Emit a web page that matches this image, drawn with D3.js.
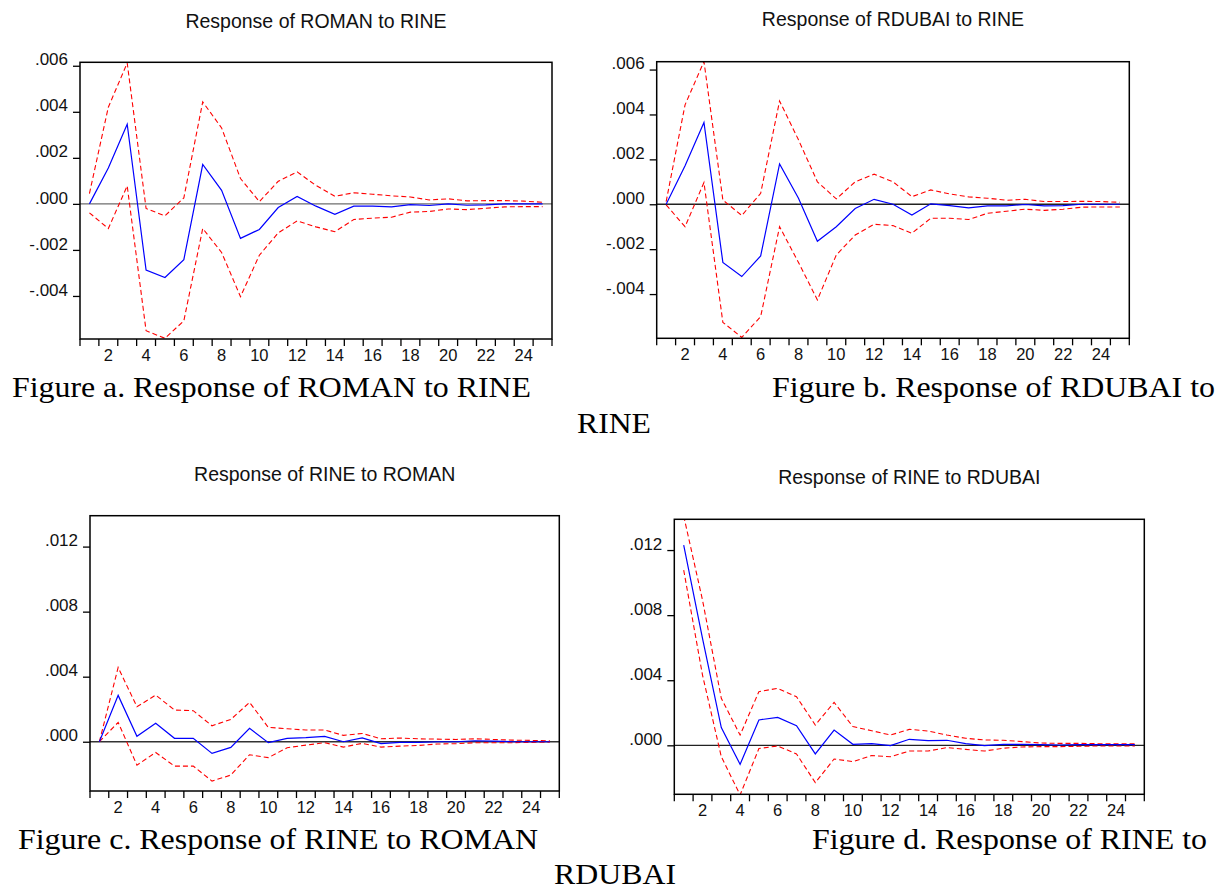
<!DOCTYPE html>
<html>
<head>
<meta charset="utf-8">
<script src="https://cdn.jsdelivr.net/npm/d3@7"></script>
<style>
  body { margin: 0; background: #fff; }
  svg { display: block; }
  .ptitle { font-family: "Liberation Sans", Arial, sans-serif; font-size: 19.5px; fill: #111; }
  .tick text { font-family: "Liberation Sans", Arial, sans-serif; font-size: 17px; fill: #111; }
  .caption { font-family: "Liberation Serif", "Times New Roman", serif; font-size: 30px; fill: #000; }
</style>
</head>
<body>
<div id="chart"></div>
<script>
// periods 1..25
let periods = [1, 2, 3, 4, 5, 6, 7, 8, 9, 10, 11, 12, 13, 14, 15, 16, 17, 18, 19, 20, 21, 22, 23, 24, 25]
let xTickLabels = ["2", "4", "6", "8", "10", "12", "14", "16", "18", "20", "22", "24"]

// Response of ROMAN to RINE
let omanResp  = [0, 0.00156, 0.00346, -0.00288, -0.0032, -0.00242, 0.00171, 0.00059, -0.0015, -0.00111, -0.00016, 0.00032, -0.0001, -0.00045, -0.0001, -0.0001, -0.00013, -0.00003, -0.00007, 0, -0.00006, -0.00004, 0, 0, 0]
let omanUpper = [0.00045, 0.0042, 0.00612, -0.0002, -0.00052, 0.00026, 0.00443, 0.0033, 0.0011, 0.0001, 0.00098, 0.00139, 0.0008, 0.00033, 0.00048, 0.00042, 0.00035, 0.0003, 0.00017, 0.00022, 0.00013, 0.00014, 0.00014, 0.00012, 0.00007]
let omanLower = [-0.00039, -0.00107, 0.00078, -0.00551, -0.00584, -0.00508, -0.00107, -0.00211, -0.00403, -0.00223, -0.00126, -0.00074, -0.001, -0.00121, -0.00068, -0.00062, -0.00058, -0.00036, -0.00033, -0.00022, -0.00025, -0.00019, -0.00013, -0.00012, -0.00012]

// Response of RDUBAI to RINE
let dubaiResp  = [0, 0.00172, 0.00364, -0.00259, -0.00322, -0.0023, 0.0018, 0.00027, -0.00165, -0.001, -0.00019, 0.00022, 0, -0.00048, 0.00002, -0.00006, -0.00016, -0.00007, -0.00007, -0.00001, -0.00007, -0.00006, 0, 0, 0]
let dubaiUpper = [0.00012, 0.00443, 0.00636, 0.00019, -0.0005, 0.00049, 0.0046, 0.00287, 0.001, 0.00024, 0.001, 0.00134, 0.001, 0.00034, 0.00064, 0.00046, 0.00033, 0.00027, 0.00018, 0.00022, 0.00012, 0.00012, 0.00013, 0.00012, 0.00009]
let dubaiLower = [-0.00003, -0.001, 0.00097, -0.00526, -0.00593, -0.005, -0.001, -0.00259, -0.00426, -0.00226, -0.00137, -0.00089, -0.00095, -0.00129, -0.00062, -0.00062, -0.00068, -0.0004, -0.00031, -0.00022, -0.00027, -0.00022, -0.00013, -0.00012, -0.00012]

// Response of RINE to ROMAN
let ineOmanResp  = [0, 0.00285, 0.00033, 0.00113, 0.00021, 0.00021, -0.00072, -0.00035, 0.00082, -0.00006, 0.00021, 0.00025, 0.00033, 0, 0.00023, -0.00012, -0.00004, -0.00004, 0, 0, 0.00006, 0.00004, 0, 0, 0]
let ineOmanUpper = [0, 0.00457, 0.00215, 0.00287, 0.00195, 0.00191, 0.00098, 0.00137, 0.00242, 0.00088, 0.0008, 0.00072, 0.00072, 0.00039, 0.00051, 0.00018, 0.00023, 0.00018, 0.00016, 0.00014, 0.00018, 0.00014, 0.0001, 0.00008, 0.00006]
let ineOmanLower = [0, 0.00119, -0.00144, -0.00066, -0.0015, -0.0015, -0.00242, -0.00205, -0.0008, -0.00098, -0.00037, -0.00021, -0.00006, -0.00033, -0.0001, -0.00033, -0.00027, -0.00023, -0.00014, -0.00012, -0.00006, -0.00006, -0.00006, -0.00004, -0.00002]

// Response of RINE to RDUBAI
let ineDubaiResp  = [0.01231, 0.00657, 0.00109, -0.00117, 0.00156, 0.00172, 0.00121, -0.00053, 0.00094, 0.00006, 0.0001, -0.00002, 0.00037, 0.00029, 0.00031, 0.0001, -0.00002, 0.00006, 0.00006, 0.00004, 0.00002, 0.00004, 0.00004, 0.00004, 0.00004]
let ineDubaiUpper = [0.0141, 0.00893, 0.00289, 0.00063, 0.0033, 0.0035, 0.00299, 0.00125, 0.00264, 0.00115, 0.0009, 0.00063, 0.00098, 0.00088, 0.00063, 0.00043, 0.00033, 0.00031, 0.00023, 0.00014, 0.00012, 0.00012, 0.0001, 0.0001, 0.0001]
let ineDubaiLower = [0.01077, 0.00432, -0.0007, -0.00305, -0.0002, -0.00004, -0.00053, -0.00229, -0.00084, -0.001, -0.00063, -0.0007, -0.00035, -0.00035, -0.00014, -0.00025, -0.00035, -0.00018, -0.0001, -0.00008, -0.00008, -0.00006, -0.00004, -0.00004, -0.00004]

// y axis ticks
let smallTicks = [-0.004, -0.002, 0, 0.002, 0.004, 0.006]
let smallTickLabels = ["-.004", "-.002", ".000", ".002", ".004", ".006"]
let bigTicks = [0, 0.004, 0.008, 0.012]
let bigTickLabels = [".000", ".004", ".008", ".012"]

let titles = ["Response of ROMAN to RINE", "Response of RDUBAI to RINE", "Response of RINE to ROMAN", "Response of RINE to RDUBAI"]

const W = 1227, H = 893

let svg = d3.select("#chart").append("svg")
  .attr("width", W)
  .attr("height", H)

svg.append("rect").attr("width", W).attr("height", H).attr("fill", "#fff")

let drawPanel = function(p, i) {
  let x = d3.scaleBand().domain(periods).range([p.x0, p.x1])
  let y = d3.scaleLinear().domain(p.yDomain).range([p.y1, p.y0])
  let cx = d => x(d) + x.bandwidth() / 2

  let g = svg.append("g")

  g.append("text")
    .attr("class", "ptitle")
    .attr("x", (p.x0 + p.x1) / 2)
    .attr("y", p.titleY)
    .attr("text-anchor", "middle")
    .text(titles[i])

  // clip
  g.append("clipPath").attr("id", "clip" + i)
    .append("rect")
      .attr("x", p.x0).attr("y", p.y0)
      .attr("width", p.x1 - p.x0).attr("height", p.y1 - p.y0)

  let plot = g.append("g").attr("clip-path", "url(#clip" + i + ")")

  plot.append("line")
    .attr("x1", p.x0).attr("x2", p.x1)
    .attr("y1", y(0)).attr("y2", y(0))
    .attr("stroke", p.zeroColor)
    .attr("stroke-width", 1.3)

  let line = d3.line()
    .x((d, j) => cx(periods[j]))
    .y(d => y(d))

  plot.append("path").datum(p.upper)
    .attr("d", line).attr("fill", "none")
    .attr("stroke", "#ff0000").attr("stroke-width", 1.1)
    .attr("stroke-dasharray", "5,3")
  plot.append("path").datum(p.lower)
    .attr("d", line).attr("fill", "none")
    .attr("stroke", "#ff0000").attr("stroke-width", 1.1)
    .attr("stroke-dasharray", "5,3")
  plot.append("path").datum(p.resp)
    .attr("d", line).attr("fill", "none")
    .attr("stroke", "#0000ff").attr("stroke-width", 1.2)

  // frame
  g.append("rect")
    .attr("x", p.x0).attr("y", p.y0)
    .attr("width", p.x1 - p.x0).attr("height", p.y1 - p.y0)
    .attr("fill", "none").attr("stroke", "#000").attr("stroke-width", 1.5)

  // y axis
  let yAxis = d3.axisLeft(y)
    .tickValues(p.ticks)
    .tickFormat((d, j) => p.tickLabels[j])
    .tickSize(7)
    .tickPadding(5)
  let ya = g.append("g").attr("transform", "translate(" + p.x0 + ",0)").call(yAxis)
  ya.select(".domain").remove()
  ya.selectAll(".tick line").attr("stroke", "#000").attr("stroke-width", 1.3)
  ya.selectAll(".tick text").attr("dy", "-0.05em")

  // x axis: ticks at band boundaries, labels on even periods
  let xa = g.append("g")
  let edges = periods.map(d => x(d)).concat([p.x1])
  xa.selectAll("line.xt").data(edges).enter().append("line")
    .attr("class", "xt")
    .attr("x1", d => d).attr("x2", d => d)
    .attr("y1", p.y1).attr("y2", p.y1 + 7)
    .attr("stroke", "#000").attr("stroke-width", 1.3)
  xa.selectAll("text").data(xTickLabels).enter().append("text")
    .attr("x", d => cx(+d))
    .attr("y", p.y1 + 22)
    .attr("text-anchor", "middle")
    .style("font-family", "'Liberation Sans', Arial, sans-serif")
    .style("font-size", "16.5px")
    .attr("fill", "#111")
    .text(d => d)
}

let panels = [
  { x0: 80, x1: 552, y0: 62.3, y1: 339, titleY: 28, yDomain: [-0.00587, 0.00615],
    ticks: smallTicks, tickLabels: smallTickLabels, resp: omanResp, upper: omanUpper, lower: omanLower, zeroColor: "#6e6e6e" },
  { x0: 656.7, x1: 1129.3, y0: 61.7, y1: 338.3, titleY: 26, yDomain: [-0.00597, 0.00635],
    ticks: smallTicks, tickLabels: smallTickLabels, resp: dubaiResp, upper: dubaiUpper, lower: dubaiLower, zeroColor: "#222" },
  { x0: 90, x1: 559.3, y0: 515.7, y1: 791, titleY: 480.5, yDomain: [-0.00303, 0.0139],
    ticks: bigTicks, tickLabels: bigTickLabels, resp: ineOmanResp, upper: ineOmanUpper, lower: ineOmanLower, zeroColor: "#333" },
  { x0: 674.3, x1: 1144.3, y0: 519.3, y1: 794.3, titleY: 484, yDomain: [-0.00301, 0.01389],
    ticks: bigTicks, tickLabels: bigTickLabels, resp: ineDubaiResp, upper: ineDubaiUpper, lower: ineDubaiLower, zeroColor: "#222" }
]

panels.forEach(drawPanel)

// captions
let captions = [
  { text: "Figure a. Response of ROMAN to RINE", x: 12, y: 397, len: 519 },
  { text: "Figure b. Response of RDUBAI to", x: 772, y: 397, len: 443 },
  { text: "RINE", x: 577, y: 433, len: 74 },
  { text: "Figure c. Response of RINE to ROMAN", x: 18, y: 849, len: 520 },
  { text: "Figure d. Response of RINE to", x: 812, y: 849, len: 395 },
  { text: "RDUBAI", x: 554, y: 884, len: 122 }
]

svg.selectAll("text.caption").data(captions).enter().append("text")
  .attr("class", "caption")
  .attr("x", d => d.x)
  .attr("y", d => d.y)
  .attr("textLength", d => d.len)
  .attr("lengthAdjust", "spacingAndGlyphs")
  .text(d => d.text)
</script>
</body>
</html>
